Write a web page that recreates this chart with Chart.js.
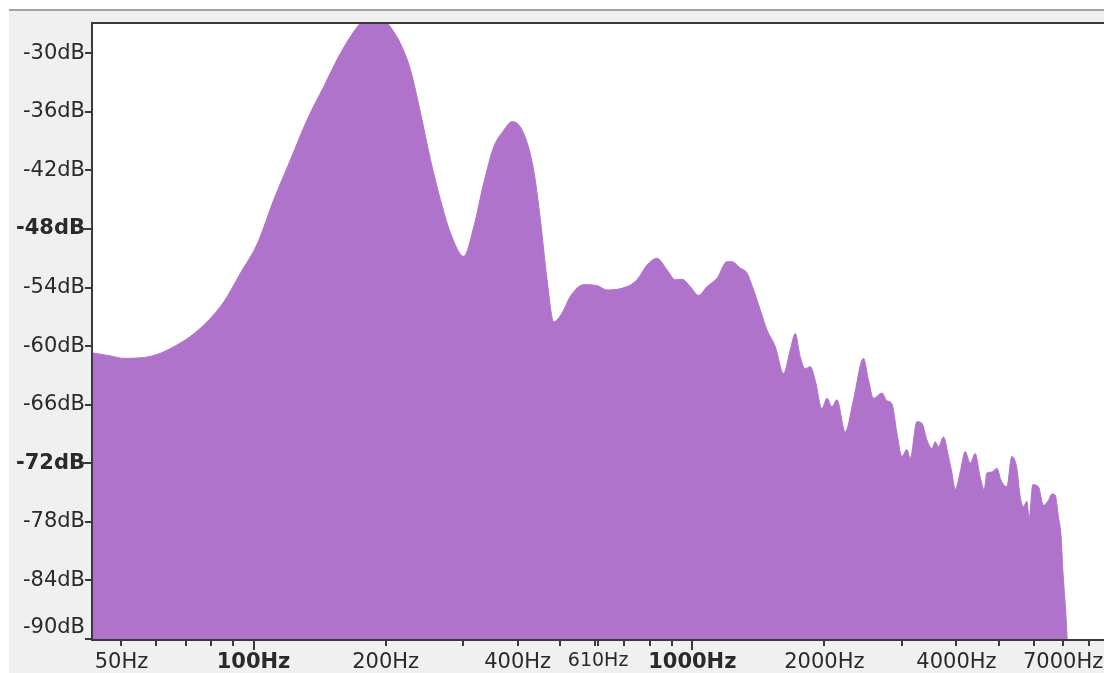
<!DOCTYPE html>
<html>
<head>
<meta charset="utf-8">
<title>Frequency Analysis</title>
<script src="https://cdn.jsdelivr.net/npm/chart.js@4/dist/chart.umd.min.js"></script>
<style>
  html, body { margin: 0; padding: 0; background: #ffffff; overflow: hidden; }
  #wrap { position: absolute; left: 0; top: 0; width: 1112px; height: 673px; }
</style>
</head>
<body>
<div id="wrap"><canvas id="spectrum" width="1112" height="673"></canvas></div>
<script>
// Spectrum: frequency (Hz) and level (dB)
const freqHz = [
  43.07, 47.2, 50.7, 55.3, 60.3, 65.8, 71.8, 78.4, 85.6, 93.4,
  102, 111.2, 121.4, 132.5, 144.6, 157.8, 172.3, 180, 187.7, 196.7,
  205.1, 216.2, 227.9, 240.2, 253.1, 266.7, 281.1, 301.3, 317.6, 334.7,
  352.7, 371.7, 388.5, 412.8, 435.1, 450.7, 466.7, 483.2, 505, 527.3,
  565.4, 606.7, 639.4, 710, 748.2, 788.6, 831, 876, 915, 947.5,
  989.5, 1033.7, 1080, 1138.5, 1199.5, 1231, 1286.5, 1332.5, 1379.6, 1428.8,
  1480, 1545.7, 1614.6, 1672, 1716.5, 1762, 1808.6, 1857, 1906, 1974,
  2027, 2080.5, 2136, 2231, 2330, 2456, 2521, 2588, 2705, 2776.5,
  2850, 2926, 3004, 3084, 3138, 3250, 3336.5, 3425, 3516, 3577.5,
  3640, 3737, 3836.5, 3906, 3974, 4079, 4188, 4299, 4413, 4530,
  4626, 4692, 4816, 4945, 5049, 5210, 5349, 5490, 5588, 5685,
  5787, 5857, 5971, 6149, 6313, 6481, 6598, 6713, 6830, 6927,
  6989, 7085, 7161
];
const levelDb = [
  -60.7, -61.0, -61.25, -61.2, -60.85, -60.06, -59.0, -57.5, -55.45, -52.5,
  -49.5, -45.0, -40.9, -36.8, -33.4, -30.0, -27.3, -26.4, -26.0, -26.4,
  -27.3, -29.0, -31.7, -36.1, -40.9, -45.0, -48.4, -50.8, -47.8, -43.3,
  -39.6, -37.9, -37.0, -38.2, -42.0, -47.1, -53.2, -57.5, -56.6, -54.9,
  -53.7, -53.8, -54.25, -53.9, -53.2, -51.7, -51.0, -52.2, -53.2, -53.15,
  -53.9, -54.8, -53.9, -53.05, -51.35, -51.35, -52.0, -52.5, -54.25, -56.3,
  -58.35, -60.05, -62.8, -60.4, -58.7, -61.1, -62.3, -62.1, -63.5, -66.4,
  -65.35, -66.2, -65.5, -68.8, -65.5, -61.25, -63.5, -65.35, -64.8, -65.6,
  -65.9, -68.9, -71.3, -70.6, -71.5, -67.75, -67.9, -69.6, -70.5, -69.8,
  -70.3, -69.3, -71.3, -73.0, -74.7, -72.9, -70.8, -72.0, -71.0, -73.4,
  -74.7, -73.0, -72.9, -72.5, -73.7, -74.4, -71.3, -72.5, -75.4, -76.45,
  -75.9, -77.6, -74.2, -74.4, -76.3, -75.8, -75.15, -75.25, -77.5, -79.5,
  -82.9, -86.7, -90.5
];

// Axis ticks
const dbTicks = [-90, -84, -78, -72, -66, -60, -54, -48, -42, -36, -30];
const dbMajor = [-48, -72];
const hzTicks = [50, 60, 70, 80, 90, 100, 200, 300, 400, 500, 600, 610, 700, 800, 900,
                 1000, 2000, 3000, 4000, 5000, 6000, 7000, 8000];
const hzLabelled = [50, 100, 200, 400, 610, 1000, 2000, 4000, 7000];
const hzMajor = [100, 1000];

const FONT = 'DejaVu Sans';
const FILL = '#b073cc';
const INK = '#2a2a2a';

// Window chrome behind the plot and the plot frame / tick marks
const framePlugin = {
  id: 'frame',
  beforeDraw(chart) {
    const ctx = chart.ctx, a = chart.chartArea;
    ctx.save();
    ctx.fillStyle = '#ffffff';
    ctx.fillRect(0, 0, chart.width, chart.height);
    ctx.fillStyle = '#f0f0f0';
    ctx.fillRect(9, 11, chart.width - 9, chart.height - 11);
    ctx.fillStyle = '#a3a3a3';
    ctx.fillRect(9, 9, chart.width - 9, 2);
    ctx.fillStyle = '#ffffff';
    ctx.fillRect(a.left, a.top, a.right - a.left, a.bottom - a.top);
    ctx.restore();
  },
  afterDraw(chart) {
    const ctx = chart.ctx, a = chart.chartArea;
    const xs = chart.scales.x, ys = chart.scales.y;
    ctx.save();
    ctx.fillStyle = '#3a3a3a';
    // frame: top, left, bottom
    ctx.fillRect(a.left - 2, a.top - 2, a.right - a.left + 4, 2);
    ctx.fillRect(a.left - 2, a.top - 2, 2, a.bottom - a.top + 4);
    ctx.fillRect(a.left - 2, a.bottom, a.right - a.left + 4, 2);
    // x tick marks
    hzTicks.forEach(v => {
      const px = Math.round(xs.getPixelForValue(v));
      const len = hzMajor.includes(v) ? 10 : 6;
      ctx.fillRect(px - 1, a.bottom + 2, 2, len - 1);
    });
    // y tick marks
    dbTicks.forEach(v => {
      const py = Math.round(ys.getPixelForValue(v));
      const len = dbMajor.includes(v) ? 10 : 6;
      ctx.fillRect(a.left - 2 - len, py - 1, len, 2);
    });
    ctx.restore();
  }
};

new Chart(document.getElementById('spectrum'), {
  type: 'line',
  data: {
    datasets: [{
      data: freqHz.map((f, i) => ({ x: f, y: levelDb[i] })),
      fill: 'start',
      backgroundColor: FILL,
      borderColor: FILL,
      borderWidth: 1,
      pointRadius: 0,
      cubicInterpolationMode: 'monotone'
    }]
  },
  options: {
    responsive: false,
    animation: false,
    events: [],
    layout: { padding: { left: 0, top: 24, right: 1, bottom: 0 } },
    plugins: { legend: { display: false }, tooltip: { enabled: false } },
    scales: {
      x: {
        type: 'logarithmic',
        position: 'bottom',
        min: 43.07,
        max: 9000,
        grid: { display: false, drawTicks: false },
        border: { display: false },
        afterBuildTicks(s) { s.ticks = hzTicks.map(v => ({ value: v })); },
        afterFit(s) { s.height = 34; s.paddingLeft = 0; s.paddingRight = 0; },
        ticks: {
          autoSkip: false,
          maxRotation: 0,
          minRotation: 0,
          padding: 11,
          color: INK,
          font(ctx) {
            const v = ctx.tick ? ctx.tick.value : 0;
            return {
              family: FONT,
              size: v === 610 ? 19 : 21,
              weight: hzMajor.includes(v) ? 'bold' : 'normal'
            };
          },
          callback(v) { return hzLabelled.includes(v) ? v + 'Hz' : ''; }
        }
      },
      y: {
        type: 'linear',
        position: 'left',
        min: -90,
        max: -27,
        grid: { display: false, drawTicks: false },
        border: { display: false },
        afterBuildTicks(s) { s.ticks = dbTicks.map(v => ({ value: v })); },
        afterFit(s) { s.width = 93; s.paddingTop = 0; s.paddingBottom = 0; },
        ticks: {
          padding: 8,
          color: INK,
          font(ctx) {
            const v = ctx.tick ? ctx.tick.value : 0;
            return {
              family: FONT,
              size: 21,
              weight: dbMajor.includes(v) ? 'bold' : 'normal',
              lineHeight: v === -90 ? '22px' : 1.2
            };
          },
          // the bottom label sits above its tick
          callback(v) { return v === -90 ? [v + 'dB', ''] : v + 'dB'; }
        }
      }
    }
  },
  plugins: [framePlugin]
});
</script>
</body>
</html>
